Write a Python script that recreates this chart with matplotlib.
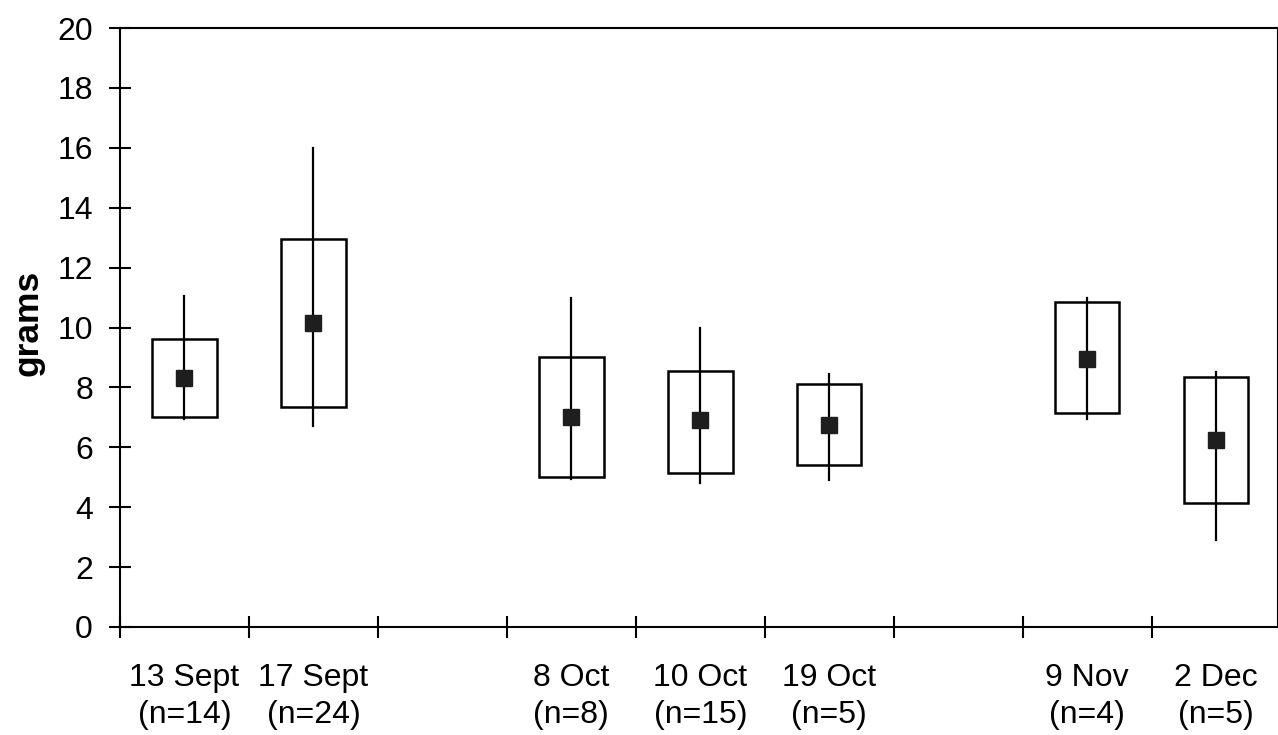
import matplotlib.pyplot as plt
from matplotlib.patches import Rectangle
import numpy as np

plt.rcParams['font.family'] = ['Liberation Sans', 'DejaVu Sans']

dates = ['13 Sept', '17 Sept', '8 Oct', '10 Oct', '19 Oct', '9 Nov', '2 Dec']
counts = [14, 24, 8, 15, 5, 4, 5]
# slot index on the x axis (slots 2 and 6 are left empty)
slots = [0, 1, 3, 4, 5, 7, 8]

lows = [6.95, 6.7, 4.95, 4.8, 4.9, 6.95, 2.9]
box_lo = [7.0, 7.35, 5.0, 5.15, 5.4, 7.15, 4.15]
means = [8.3, 10.15, 7.0, 6.9, 6.75, 8.95, 6.25]
box_hi = [9.6, 12.95, 9.0, 8.55, 8.1, 10.85, 8.35]
highs = [11.05, 16.0, 11.0, 10.0, 8.45, 11.0, 8.5]

fig = plt.figure(figsize=(12.78, 7.35), dpi=100)
ax = fig.add_axes([120 / 1278, 108 / 735, 1158 / 1278, 599 / 735])

x = np.array(slots) + 0.5
box_w = 0.5

for i in range(len(dates)):
    ax.add_patch(Rectangle((x[i] - box_w / 2, box_lo[i]), box_w,
                           box_hi[i] - box_lo[i], fill=False,
                           edgecolor='black', linewidth=1.8, zorder=2))
    ax.plot([x[i], x[i]], [lows[i], highs[i]], color='black',
            linewidth=1.6, zorder=3)

ax.plot(x, means, linestyle='none', marker='s', markersize=11.5,
        color='#1e1e1e', zorder=4)

ax.set_xlim(0, 8.98)
ax.set_ylim(0, 20)
ax.set_yticks(np.arange(0, 21, 2))
ax.set_xticks(np.arange(0, 9))
ax.set_xticklabels([])
ax.set_xticks(x, minor=True)
ax.set_xticklabels(['%s\n(n=%d)' % (d, n) for d, n in zip(dates, counts)],
                   minor=True)

ax.tick_params(axis='both', which='major', direction='inout', length=16,
               width=1.5, labelsize=23)
ax.tick_params(axis='y', which='major', pad=11.5)
ax.tick_params(axis='x', which='minor', length=0, labelsize=23, pad=26)
for lbl in ax.get_xticklabels(minor=True):
    lbl.set_linespacing(1.32)

for s in ax.spines.values():
    s.set_linewidth(1.5)

fig.text(28 / 1278, 1 - 323 / 735, 'grams', rotation=90, fontsize=25.5,
         fontweight='bold', ha='center', va='center')

plt.savefig('out.png', dpi=100)
